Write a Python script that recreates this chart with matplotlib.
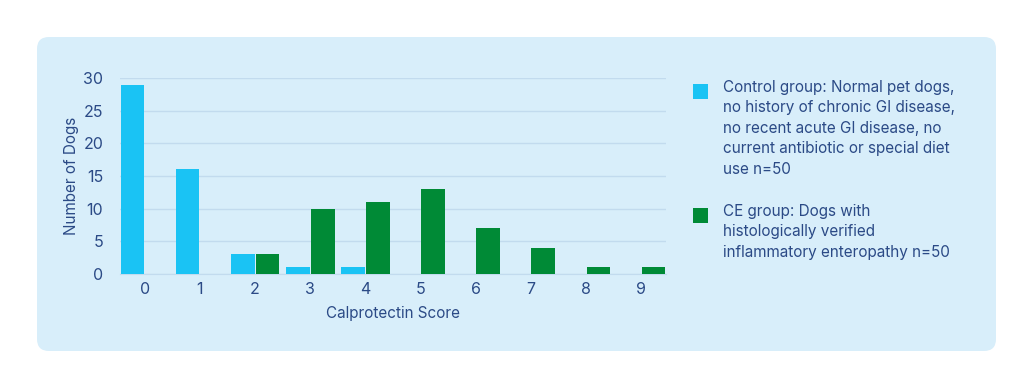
import matplotlib.pyplot as plt
from matplotlib.patches import FancyBboxPatch
import numpy as np

# data
scores = [0, 1, 2, 3, 4, 5, 6, 7, 8, 9]
control = [29, 16, 3, 1, 1, 0, 0, 0, 0, 0]
ce = [0, 0, 3, 10, 11, 13, 7, 4, 1, 1]
labels = ['Control group: Normal pet dogs,\nno history of chronic GI disease,\nno recent acute GI disease, no\ncurrent antibiotic or special diet\nuse n=50',
          'CE group: Dogs with\nhistologically verified\ninflammatory enteropathy n=50']

C_PANEL = '#d8eefa'
C_BLUE = '#1ac3f4'
C_GREEN = '#008a36'
C_TEXT = '#2b4a86'
C_GRID = '#c2dbee'

plt.rcParams['font.family'] = ['Inter', 'DejaVu Sans']

W, H = 1024, 388
fig = plt.figure(figsize=(W / 100, H / 100), dpi=100, facecolor='white')

# background panel
bg = fig.add_axes([0, 0, 1, 1])
bg.set_xlim(0, W)
bg.set_ylim(H, 0)
bg.axis('off')
bg.add_patch(FancyBboxPatch((49, 49), 935, 290, boxstyle='round,pad=12',
                            facecolor=C_PANEL, edgecolor='none'))

ax = fig.add_axes([120 / W, 1 - 274 / H, 546 / W, 196 / H])
ax.set_facecolor('none')
x = np.array(scores)
w = 0.43
ax.bar(x - 0.225, control, w, color=C_BLUE, zorder=3)
ax.bar(x + 0.225, ce, w, color=C_GREEN, zorder=3)
ax.set_xlim(-0.45, 9.45)
ax.set_ylim(0, 30)
ax.set_yticks([0, 5, 10, 15, 20, 25, 30])
ax.set_xticks(scores)
ax.grid(axis='y', color=C_GRID, lw=1, zorder=0)
for s in ['top', 'right', 'left']:
    ax.spines[s].set_visible(False)
ax.spines['bottom'].set_color(C_GRID)
ax.tick_params(length=0, colors=C_TEXT, labelsize=11.5)
ax.tick_params(axis='y', pad=12)
ax.tick_params(axis='x', pad=6)
ax.set_xlabel('Calprotectin Score', color=C_TEXT, fontsize=11, labelpad=6)
ax.set_ylabel('Number of Dogs', color=C_TEXT, fontsize=11, labelpad=3)

# legend
bg.add_patch(plt.Rectangle((693, 84), 15, 15, facecolor=C_BLUE, edgecolor='none'))
bg.add_patch(plt.Rectangle((693, 208), 15, 15, facecolor=C_GREEN, edgecolor='none'))
bg.text(723, 80, labels[0], color=C_TEXT, fontsize=11, va='top', ha='left', linespacing=1.45)
bg.text(723, 204, labels[1], color=C_TEXT, fontsize=11, va='top', ha='left', linespacing=1.45)

fig.savefig('out.png', dpi=100, facecolor='white')
